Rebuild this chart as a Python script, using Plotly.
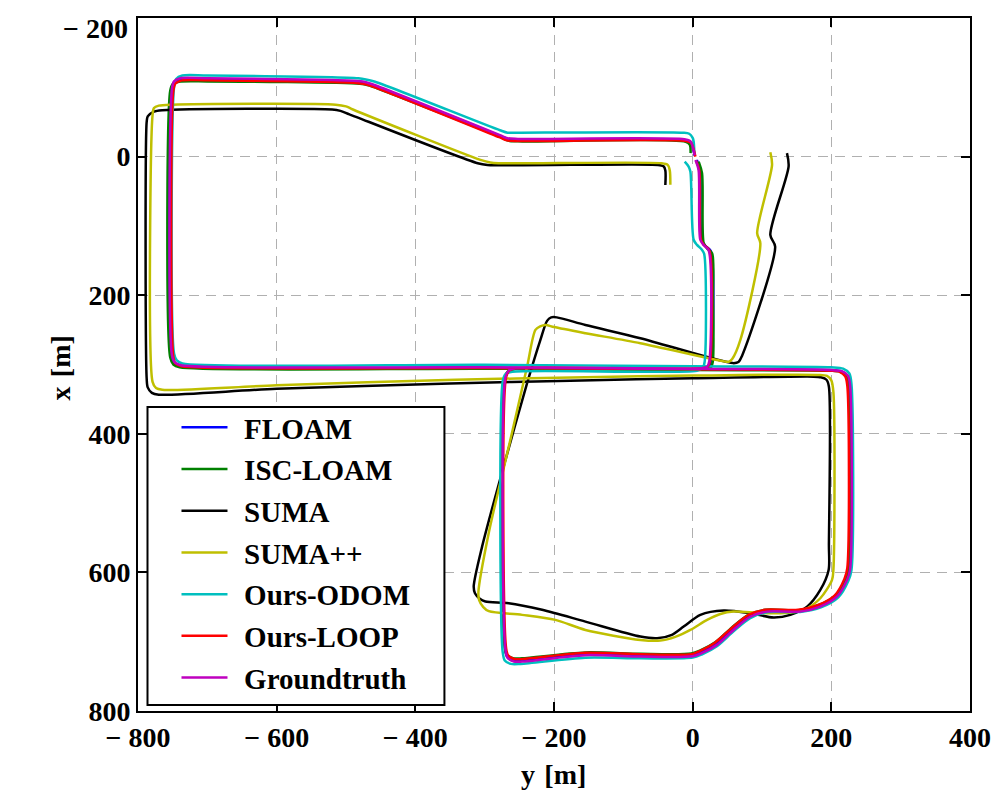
import plotly.graph_objects as go

# trajectories, lateral y [m] (horizontal axis) and forward x [m] (vertical axis)
FLOAM_Y = [6, 10.5, 13, 18.5, 26, 26.5, 23, 13, -256, -265, -270.5, -270.5, -267.5, -258, -246,
           -155, -75, 0, 12, 34, 58, 82, 106, 154, 183, 207, 221.6, 226, 226, 223, 214, 199,
           0, -300, -738, -747, -751.5, -751.5, -748, -739, -700, -482, -470, -458, -278, -267, -252,
           -12, -3, 0, 3]
FLOAM_X = [5, 19, 120, 129, 136, 295, 303.5, 306, 306, 309, 318.5, 711, 722, 727.5, 727.5,
           718.5, 720.5, 720, 715.5, 703.5, 682, 663, 655.6, 655.6, 648.4, 634, 610, 595, 330, 316, 309.5, 308,
           306.5, 304.5, 302, 298, 288, -97, -107.5, -112, -112, -108, -106, -102, -30, -25.5, -24.5,
           -24, -21, -13, -1]

ISC_Y = [8.7, 13.5, 15.9, 21, 28, 29.4, 29, 26, 16, -256, -266, -271, -271, -268, -259, -246,
         -155, -75, -2, 11, 33, 57, 81, 105, 153, 182, 206, 220.6, 225, 225, 222, 213, 198,
         0, -300, -740, -749, -753.5, -753.5, -750, -741, -700, -480, -468, -456, -277, -266, -252,
         -10, -4, -3]
ISC_X = [7.2, 24, 125, 133, 139.4, 200, 296, 304.5, 307, 306.5, 309.5, 319, 708, 719, 724, 724,
         715.5, 717.5, 717, 712.5, 700.5, 679, 661, 654, 654.5, 647, 633, 609, 594, 331, 317, 310.5, 309,
         308, 306, 304, 300, 290, -95, -104.5, -108, -108.5, -105, -103, -99, -28, -23, -22,
         -21.5, -17, -5]

SUMA_Y = [136, 138.4, 112, 119, 71, 66, 58, -75.4, -154.7, -196, -204, -210, -219.6, -238.8,
          -270, -303.7, -315.8, -314, -307, -299, -265.3, -217.2, -154.7, -75.4, -51.3, -30, -13, 11.1,
          44.7, 83.2, 116.8, 140.9, 165, 184.1, 196.1, 196.5, 196.5, 193, 185, 174.5, 0, -160, -350,
          -600, -770, -780, -786, -787.5, -787.5, -786, -777, -765, -520, -508, -495, -310, -296,
          -50, -42, -39.4, -39.4]
SUMA_X = [-5, 14, 113, 130, 288, 296.5, 298, 262, 243, 232, 232, 237, 264.5, 327,
          437.7, 562.8, 620.5, 630, 638, 642, 644.4, 654, 671, 692.6, 695, 690, 678.2, 661.3,
          655, 658.9, 665.2, 661.3, 649.4, 625.3, 596.4, 560, 332, 322, 318.5, 317.5, 320, 323, 327.5,
          335, 343.5, 341, 333, 320, -50, -58, -65, -67, -68, -66, -61, 9.6, 12,
          12, 14, 20, 41]

SUMAPP_Y = [112, 114.5, 93, 97.6, 68.8, 57, 52, 45, -75.4, -154.7, -200, -212, -220, -226.8, -238.8,
            -262.9, -294.2, -309, -308, -302, -294, -246, -198, -154.7, -75.4, -46.6, -25, -3.3, 20.8,
            40, 59.1, 92.9, 126.5, 160, 184.1, 201, 203, 203, 200, 193.8, 180, 0, -154.7, -342,
            -600, -765, -774, -779, -779, -777, -770, -750, -515, -500, -490, -306, -292, -280,
            -45, -36, -33, -32.2]
SUMAPP_X = [-6.3, 12, 110.5, 125, 264.5, 292, 296, 295.5, 269.3, 254.8, 246, 243, 245, 250, 303,
            408.8, 543.4, 628, 640, 650, 656, 661.3, 668.5, 683, 697.4, 698.4, 693, 683, 668.5,
            660, 656.6, 658, 659, 654, 637.3, 610.8, 596, 340, 323, 316.5, 315, 316, 318.4, 322,
            330, 336.5, 334, 325, -60, -70, -73.5, -75, -75, -72.5, -68, 4.8, 8.5, 9.6,
            9.6, 12, 20, 40.8]

ODOM_Y = [-11.5, -6, -3.3, 1.4, 6.3, 13, 16.5, 17.3, 14.5, 6, -260, -270, -274, -274, -271, -262, -248,
          -155, -75, 0, 13, 35, 59, 83, 107, 155, 185, 210, 224.6, 229, 229, 226, 217, 200,
          0, -300, -736, -744, -748, -748, -745, -736, -700, -482, -470, -458, -278, -267, -252,
          -14, -5, 0, 1.4, 2.5]
ODOM_X = [7.2, 14, 21.6, 120, 127.4, 134, 140, 296, 305, 309, 310.5, 314, 325, 715, 727, 732, 732,
          723, 724, 723, 718.5, 706.5, 685, 666, 657.5, 657, 650.5, 636, 612, 597, 328, 313, 306, 304,
          302.5, 300.5, 298.5, 294, 284, -100, -112, -117, -117, -113, -111, -108, -38, -34.5, -34.5,
          -34.5, -33, -27, -22, -5]

LOOP_Y = [5, 9.5, 12, 17, 24, 25, 22, 13, -255, -264, -269, -269, -266, -257, -245,
          -155, -75, -2, 10, 32, 56, 80, 104, 152, 181, 205, 219, 223, 223, 220, 212, 198,
          0, -300, -737, -746, -749, -749, -746, -737, -700, -482, -470, -458, -279, -268, -253,
          -10, -2, 1, 4]
LOOP_X = [6, 20, 120, 128, 135, 295, 303, 305.5, 305.5, 308.5, 318, 710, 720, 725, 725,
          716, 718, 718, 713.5, 701.5, 680.5, 661.5, 654, 654, 647, 633, 609, 594, 330, 317, 310.5, 309,
          307, 305, 302.5, 298.5, 289, -95, -105.5, -110, -110, -106, -104, -100, -28, -23.5, -22.5,
          -22.5, -19.5, -12, 0]

GT_Y = [4, 8.5, 11, 16, 23, 24, 21, 12, -256, -265, -270, -270, -267, -258, -246,
        -155, -75, 0, 13, 35, 59, 83, 107, 155, 184, 208, 222.6, 227, 227, 224, 215, 200,
        0, -300, -738, -747, -751, -751, -748, -739, -700, -482, -470, -458, -278, -267, -252,
        -12, -3, 0, 3]
GT_X = [5, 19, 120, 128, 135, 295, 303, 305.5, 305.5, 308.5, 318, 712, 723, 728.5, 728.7,
        719.5, 721.5, 721, 716.6, 704.6, 683, 664, 656.6, 656.6, 649.4, 635, 611, 596, 330, 316, 309.5, 308,
        306, 304, 301, 297, 287, -98, -108.5, -113, -113, -109, -107, -103, -31, -26.5, -25.5,
        -25, -22, -14, -2]

NAMES = ["FLOAM", "ISC-LOAM", "SUMA", "SUMA++", "Ours-ODOM", "Ours-LOOP", "Groundtruth"]
COLORS = ["#0000ff", "#008000", "#000000", "#bfbf00", "#00bfbf", "#ff0000", "#bf00bf"]
TICKS_Y = [-800, -600, -400, -200, 0, 200, 400]
TICKS_X = [-200, 0, 200, 400, 600, 800]

series = [(FLOAM_Y, FLOAM_X), (ISC_Y, ISC_X), (SUMA_Y, SUMA_X), (SUMAPP_Y, SUMAPP_X),
          (ODOM_Y, ODOM_X), (LOOP_Y, LOOP_X), (GT_Y, GT_X)]


def label(v):
    return ("\u2212 " + str(-v)) if v < 0 else str(v)


fig = go.Figure()
for name, color, (ys, xs) in zip(NAMES, COLORS, series):
    fig.add_trace(go.Scatter(
        x=ys, y=xs, mode="lines", name="\u2009\u2009" + name, legendgroup=name,
        line=dict(color=color, width=2.5, shape="spline", smoothing=0.8),
    ))

font = dict(family="Liberation Serif", size=28, color="black", weight="bold")
axis = dict(
    showline=True, linecolor="black", linewidth=2, mirror="ticks",
    ticks="inside", ticklen=9, tickwidth=1.5, tickcolor="black",
    showgrid=True, gridcolor="#b0b0b0", gridwidth=1.2, griddash="10px,7px",
    zeroline=False, tickfont=font, automargin=False,
)

# plot area in page pixels; the page body adds an 8px offset
W, H = 1007, 801
PX0, PX1, PY0, PY1 = 137.5, 969.7, 18, 711
OFF = 8
pw, ph = PX1 - PX0, PY1 - PY0


def px(x):
    return (x - PX0) / pw


def py(y):
    return (PY1 - y) / ph


# the top y label sits just inside the page, so it is written as an annotation
ylabels = [label(v) for v in TICKS_X]
top_label = ylabels[0]
ylabels[0] = ""

fig.update_layout(
    width=W, height=H,
    margin=dict(l=PX0 - OFF, r=W - PX1 + OFF, t=PY0 - OFF, b=H - PY1 + OFF),
    paper_bgcolor="white", plot_bgcolor="white",
    font=font,
    xaxis=dict(axis, range=[-800, 400], tickvals=TICKS_Y, ticktext=[label(v) for v in TICKS_Y]),
    yaxis=dict(axis, range=[800, -200], tickvals=TICKS_X, ticktext=ylabels),
    legend=dict(
        x=px(176), y=py(402), xanchor="left", yanchor="top",
        bgcolor="rgba(0,0,0,0)", borderwidth=0,
        font=dict(font, size=29), tracegroupgap=1, itemwidth=46,
        traceorder="grouped",
    ),
    shapes=[dict(
        type="rect", xref="paper", yref="paper", layer="above",
        x0=px(147), x1=px(444), y0=py(705), y1=py(407),
        line=dict(color="black", width=2), fillcolor="white",
    )],
    annotations=[
        dict(text=top_label, xref="paper", yref="paper", x=px(129), y=py(28),
             showarrow=False, xanchor="right", yanchor="middle", font=font),
        dict(text="y\u2004[m]", xref="paper", yref="paper", x=px(553), y=py(774),
             showarrow=False, xanchor="center", yanchor="middle", font=font),
        dict(text="x\u2004[m]", xref="paper", yref="paper", x=px(60), y=py(368),
             showarrow=False, xanchor="center", yanchor="middle", textangle=-90, font=font),
    ],
)

fig.write_html("out.html")
